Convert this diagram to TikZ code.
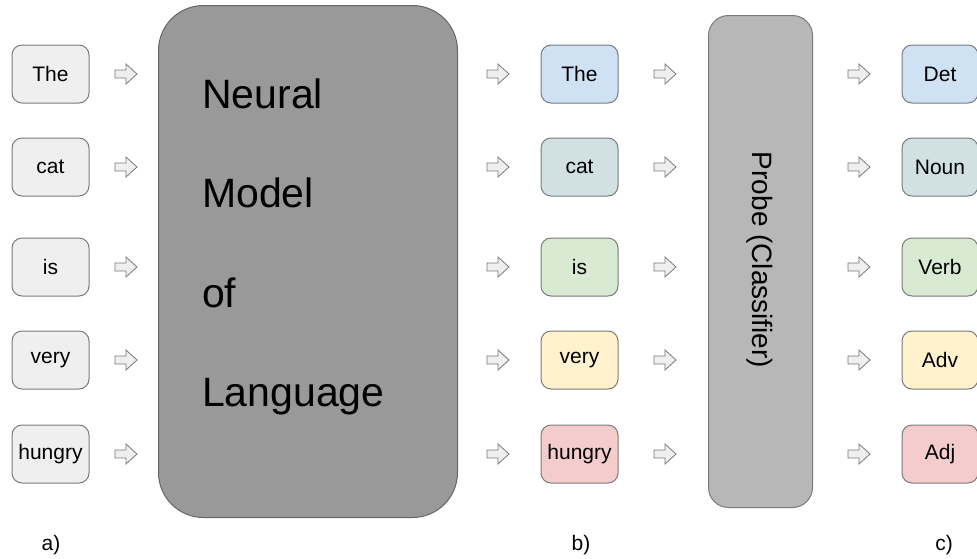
\documentclass[tikz,border=0pt]{standalone}
\usepackage{fontspec}
\setmainfont{Liberation Sans}
\definecolor{lgray}{HTML}{EFEFEF}
\definecolor{bord}{HTML}{7A7A7A}
\definecolor{bigfill}{HTML}{999999}
\definecolor{bigbord}{HTML}{666666}
\definecolor{probefill}{HTML}{B7B7B7}
\definecolor{cblue}{HTML}{CFE2F3}
\definecolor{cteal}{HTML}{D0E0E3}
\definecolor{cgreen}{HTML}{D9EAD3}
\definecolor{cyellow}{HTML}{FFF2CC}
\definecolor{cred}{HTML}{F4CCCC}
\tikzset{
  wordbox/.style={draw=bord, line width=1pt, rounded corners=10pt, minimum width=77pt, minimum height=58pt, inner sep=0pt, font=\fontsize{21}{23}\selectfont},
  blockarrow/.pic={\draw[draw=bord, fill=lgray, line width=0.8pt, line join=miter] (-11,-4) -- (0,-4) -- (0,-10) -- (11,0) -- (0,10) -- (0,4) -- (-11,4) -- cycle;},
  lbl/.style={font=\fontsize{21}{23}\selectfont, inner sep=0pt}
}
\begin{document}
\begin{tikzpicture}[x=1pt,y=-1pt]
\useasboundingbox (0,0) rectangle (977,558);
% big model box
\node[draw=bigbord, fill=bigfill, line width=1pt, rounded corners=45pt, minimum width=299pt, minimum height=512pt, anchor=north west] (model) at (158,5) {};
\node[anchor=base west, inner sep=0pt, font=\fontsize{41}{42}\selectfont] (t1) at (202,108) {Neural};
\node[anchor=base west, inner sep=0pt, font=\fontsize{41}{42}\selectfont] (t2) at (202,207) {Model};
\node[anchor=base west, inner sep=0pt, font=\fontsize{41}{42}\selectfont] (t3) at (202,307) {of};
\node[anchor=base west, inner sep=0pt, font=\fontsize{41}{42}\selectfont] (t4) at (202,406) {Language};
% probe box
\node[draw=bord, fill=probefill, line width=1pt, rounded corners=20pt, minimum width=104pt, minimum height=492pt, anchor=north west] (probe) at (708,15) {};
\node[rotate=-90, font=\fontsize{28}{30}\selectfont, inner sep=0pt] (ptext) at (760,260) {Probe (Classifier)};
% rows
\foreach \y/\w/\c/\t [count=\i] in {74/The/cblue/Det, 167/cat/cteal/Noun, 267/is/cgreen/Verb, 360/very/cyellow/Adv, 454/hungry/cred/Adj}{
  \node[wordbox, fill=lgray] (in\i) at (50.5,\y) {\w};
  \pic (a\i) at (126,\y) {blockarrow};
  \pic (b\i) at (498,\y) {blockarrow};
  \node[wordbox, fill=\c] (mid\i) at (579.5,\y) {\w};
  \pic (c\i) at (665,\y) {blockarrow};
  \pic (d\i) at (859,\y) {blockarrow};
  \node[wordbox, fill=\c, minimum width=76pt] (out\i) at (940,\y) {\t};
}
\node[lbl] (la) at (51,545) {a)};
\node[lbl] (lb) at (581,545) {b)};
\node[lbl] (lc) at (944,545) {c)};
\end{tikzpicture}
\end{document}
